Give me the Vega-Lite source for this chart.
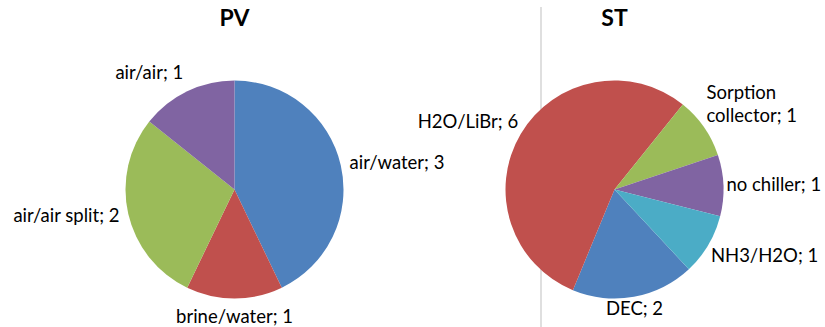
{
  "$schema": "https://vega.github.io/schema/vega-lite/v6.json",
  "padding": {"top": 6, "left": 0, "right": 0, "bottom": 0},
  "bounds": "flush",
  "spacing": 0,
  "config": {
    "view": {"stroke": null},
    "font": "Lato",
    "title": {"font": "Lato", "fontSize": 23, "fontWeight": "bold", "color": "#000000", "anchor": "middle", "baseline": "alphabetic", "offset": 18}
  },
  "datasets": {
    "pv": [
      {"i": 1, "cat": "air/water", "value": 3},
      {"i": 2, "cat": "brine/water", "value": 1},
      {"i": 3, "cat": "air/air split", "value": 2},
      {"i": 4, "cat": "air/air", "value": 1}
    ],
    "st": [
      {"i": 1, "cat": "DEC", "value": 2},
      {"i": 2, "cat": "H2O/LiBr", "value": 6},
      {"i": 3, "cat": "Sorption collector", "value": 1},
      {"i": 4, "cat": "no chiller", "value": 1},
      {"i": 5, "cat": "NH3/H2O", "value": 1}
    ]
  },
  "resolve": {"scale": {"theta": "independent", "color": "independent"}},
  "hconcat": [
    {
      "title": "PV",
      "width": 469,
      "height": 281,
      "data": {"name": "pv"},
      "layer": [
        {
          "mark": {"type": "arc", "outerRadius": 109},
          "encoding": {
            "theta": {"field": "value", "type": "quantitative", "stack": true, "scale": {"range": [0, 6.283185307]}},
            "order": {"field": "i", "type": "quantitative"},
            "color": {"field": "i", "type": "nominal", "legend": null, "scale": {"range": ["#4F81BD", "#C0504D", "#9BBB59", "#8064A2", "#4BACC6"]}}
          }
        },
        {
          "transform": [
            {"joinaggregate": [{"op": "sum", "field": "value", "as": "total"}]},
            {"window": [{"op": "sum", "field": "value", "as": "cum"}], "sort": [{"field": "i"}], "frame": [null, 0]},
            {"calculate": "2 * PI * (datum.cum - datum.value / 2) / datum.total", "as": "ang"},
            {"calculate": "datum.cat + '; ' + datum.value", "as": "lbl"},
            {"calculate": "length(datum.lbl) > 18 ? [substring(datum.lbl, 0, indexof(datum.lbl, ' ')), substring(datum.lbl, indexof(datum.lbl, ' ') + 1)] : datum.lbl", "as": "label"}
          ],
          "mark": {
            "type": "text",
            "radius": 118,
            "fontSize": 18.5,
            "font": "Lato",
            "color": "#000000",
            "lineHeight": 23,
            "align": {"expr": "sin(datum.ang) > 0.3 ? 'left' : (sin(datum.ang) < -0.3 ? 'right' : 'center')"},
            "baseline": {"expr": "cos(datum.ang) > 0.3 ? 'bottom' : (cos(datum.ang) < -0.3 ? 'top' : 'middle')"},
            "dy": {"expr": "isArray(datum.label) && cos(datum.ang) > 0.3 ? -23 * (length(datum.label) - 1) : 0"}
          },
          "encoding": {
            "theta": {"field": "value", "type": "quantitative", "stack": true},
            "order": {"field": "i", "type": "quantitative"},
            "text": {"field": "label", "type": "nominal"}
          }
        }
      ]
    },
    {
      "width": 72,
      "height": 281,
      "data": {"values": [{}]},
      "mark": {"type": "rule", "color": "#BFBFBF", "strokeWidth": 1},
      "encoding": {
        "x": {"value": "width"},
        "y": {"value": -42},
        "y2": {"value": "height"}
      }
    },
    {
      "title": "ST",
      "width": 147,
      "height": 281,
      "data": {"name": "st"},
      "layer": [
        {
          "mark": {"type": "arc", "outerRadius": 109},
          "encoding": {
            "theta": {"field": "value", "type": "quantitative", "stack": true, "scale": {"range": [2.391, 8.674]}},
            "order": {"field": "i", "type": "quantitative"},
            "color": {"field": "i", "type": "nominal", "legend": null, "scale": {"range": ["#4F81BD", "#C0504D", "#9BBB59", "#8064A2", "#4BACC6"]}}
          }
        },
        {
          "transform": [
            {"joinaggregate": [{"op": "sum", "field": "value", "as": "total"}]},
            {"window": [{"op": "sum", "field": "value", "as": "cum"}], "sort": [{"field": "i"}], "frame": [null, 0]},
            {"calculate": "2.391 + 2 * PI * (datum.cum - datum.value / 2) / datum.total", "as": "ang"},
            {"calculate": "datum.cat + '; ' + datum.value", "as": "lbl"},
            {"calculate": "length(datum.lbl) > 18 ? [substring(datum.lbl, 0, indexof(datum.lbl, ' ')), substring(datum.lbl, indexof(datum.lbl, ' ') + 1)] : datum.lbl", "as": "label"}
          ],
          "mark": {
            "type": "text",
            "radius": 112,
            "fontSize": 18.5,
            "font": "Lato",
            "color": "#000000",
            "lineHeight": 23,
            "align": {"expr": "sin(datum.ang) > 0.3 ? 'left' : (sin(datum.ang) < -0.3 ? 'right' : 'center')"},
            "baseline": {"expr": "cos(datum.ang) > 0.3 ? 'bottom' : (cos(datum.ang) < -0.3 ? 'top' : 'middle')"},
            "dy": {"expr": "isArray(datum.label) && cos(datum.ang) > 0.3 ? -23 * (length(datum.label) - 1) : 0"}
          },
          "encoding": {
            "theta": {"field": "value", "type": "quantitative", "stack": true},
            "order": {"field": "i", "type": "quantitative"},
            "text": {"field": "label", "type": "nominal"}
          }
        }
      ]
    }
  ]
}
